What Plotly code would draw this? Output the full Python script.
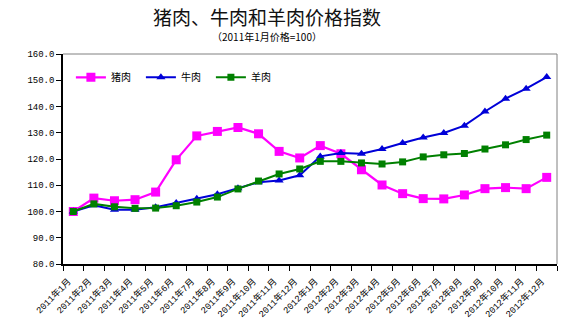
import plotly.graph_objects as go

# Monthly price index, Jan 2011 = 100
months = [f"2011年{m}月" for m in range(1, 13)] + [f"2012年{m}月" for m in range(1, 13)]

pork = [100.0, 105.1, 104.1, 104.5, 107.4, 119.7, 128.8, 130.5, 132.0, 129.6, 122.9, 120.4,
        125.1, 122.0, 115.9, 110.1, 106.8, 104.9, 104.8, 106.3, 108.7, 109.1, 108.7, 113.0]
beef = [100.0, 102.4, 100.7, 100.7, 101.6, 103.2, 104.9, 106.6, 108.9, 111.1, 111.8, 113.8,
        121.0, 122.3, 122.0, 123.8, 126.1, 128.2, 129.9, 132.7, 138.1, 143.0, 146.8, 151.2]
mutton = [100.0, 102.9, 101.8, 101.2, 101.3, 102.2, 103.6, 105.5, 108.6, 111.6, 114.3, 116.2,
          119.1, 119.1, 118.5, 118.1, 118.9, 120.8, 121.6, 122.1, 123.8, 125.4, 127.4, 129.1]

y_ticks = [80, 90, 100, 110, 120, 130, 140, 150, 160]

CJK = "Noto Sans CJK SC"
MONO = "Liberation Mono, Noto Sans CJK SC"

fig = go.Figure()
fig.add_trace(go.Scatter(
    x=months, y=pork, name="猪肉", mode="lines+markers",
    line=dict(color="#FF00FF", width=2.2),
    marker=dict(symbol="square", size=9, color="#FF00FF"),
))
fig.add_trace(go.Scatter(
    x=months, y=beef, name="牛肉", mode="lines+markers",
    line=dict(color="#0000D8", width=2),
    marker=dict(symbol="triangle-up", size=8, color="#0000D8"),
))
fig.add_trace(go.Scatter(
    x=months, y=mutton, name="羊肉", mode="lines+markers",
    line=dict(color="#008000", width=2),
    marker=dict(symbol="square", size=7, color="#008000"),
))

fig.update_layout(
    width=565, height=329,
    margin=dict(l=63, r=8, t=54, b=65),
    paper_bgcolor="white", plot_bgcolor="white",
    title=dict(
        text="猪肉、牛肉和羊肉价格指数",
        x=267 / 565, xref="container", xanchor="center",
        y=1 - 18 / 329, yref="container", yanchor="middle",
        font=dict(family=CJK, size=19, color="#111111"),
    ),
    showlegend=True,
    legend=dict(
        orientation="h", x=0.016, xanchor="left", y=0.889, yanchor="middle",
        bgcolor="rgba(0,0,0,0)", font=dict(family=CJK, size=10, color="black"),
        entrywidth=25, entrywidthmode="pixels", itemwidth=30,
    ),
    annotations=[dict(
        text="（2011年1月价格=100）", xref="paper", yref="paper",
        x=(267 - 63) / 494, y=(264.3 - 37) / 210, xanchor="center", yanchor="middle",
        showarrow=False, font=dict(family=CJK, size=10, color="black"),
    )],
    shapes=[
        dict(type="line", xref="paper", yref="paper", x0=0, x1=1, y0=1, y1=1,
             line=dict(color="#808080", width=1)),
        dict(type="line", xref="paper", yref="paper", x0=1, x1=1, y0=0, y1=1,
             line=dict(color="#808080", width=1)),
    ],
)

fig.update_xaxes(
    type="category", range=[-0.5, 23.5], tickson="boundaries",
    showline=True, linecolor="black", linewidth=1.5,
    ticks="outside", ticklen=5, tickcolor="black", tickwidth=1,
    tickangle=-45, tickfont=dict(family=MONO, size=9, color="black"),
    ticklabelstandoff=7, ticklabelshift=-5,
    showgrid=False, zeroline=False,
)
fig.update_yaxes(
    range=[80, 160], tickvals=y_ticks, tickformat=".1f",
    showline=True, linecolor="black", linewidth=1.5,
    ticks="outside", ticklen=5, tickcolor="black", tickwidth=1,
    tickfont=dict(family=MONO, size=9, color="black"),
    showgrid=False, zeroline=False,
)

fig.write_html("out.html")
